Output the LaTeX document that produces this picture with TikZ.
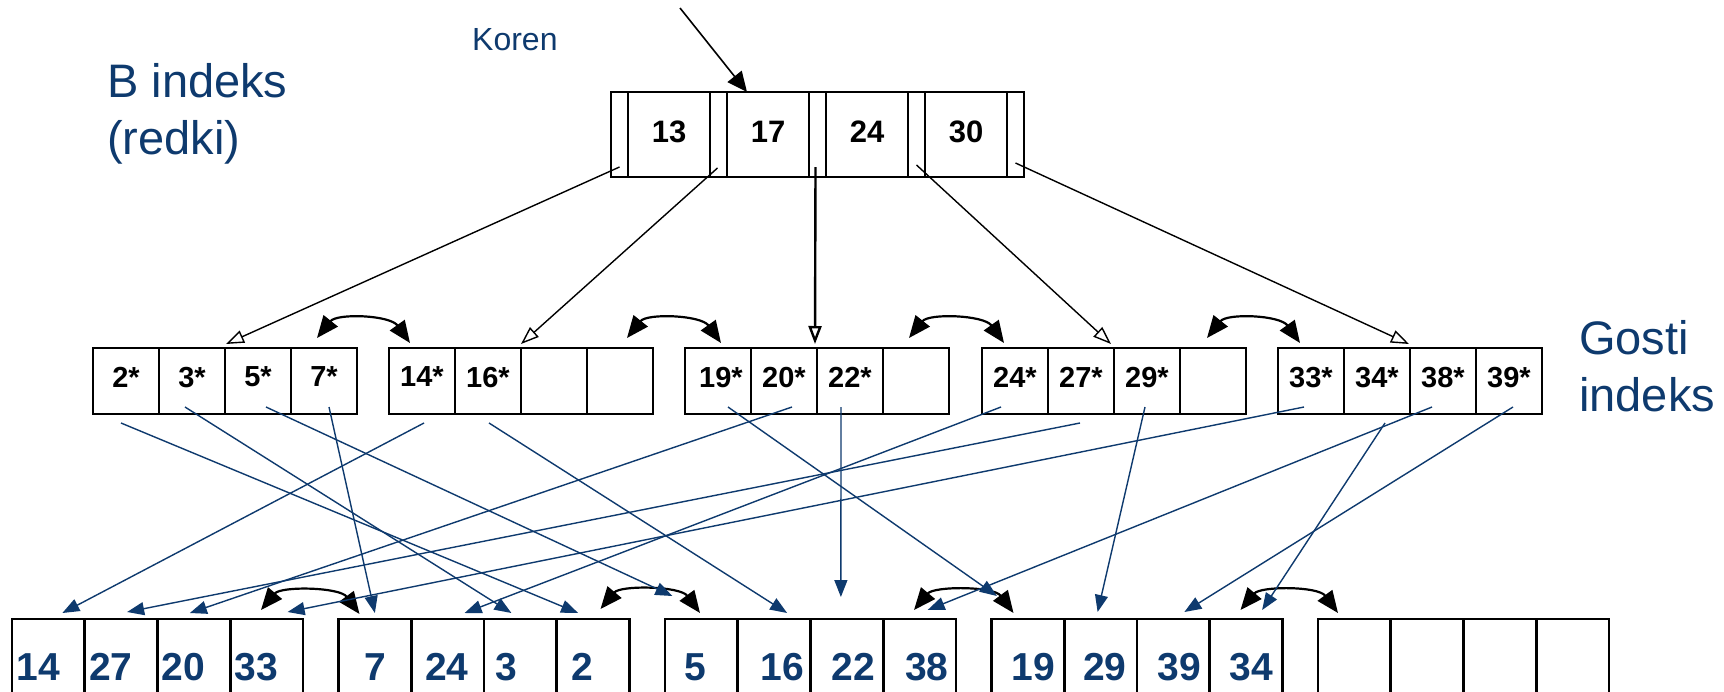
\documentclass[tikz,border=0pt]{standalone}
\usepackage{fontspec}
\setmainfont{Liberation Sans}
\usetikzlibrary{arrows.meta,positioning}

\definecolor{navy}{RGB}{14,58,110}

\begin{document}
\begin{tikzpicture}[
    x=1pt, y=-1pt, node distance=0pt,
    box/.style={draw, inner sep=0pt, outer sep=0pt},
    slot/.style={box, line width=2.4pt, minimum width=17pt, minimum height=85pt},
    rkey/.style={box, line width=1.6pt, minimum width=82pt, minimum height=85pt, text depth=5pt, font=\fontsize{31}{31}\selectfont\bfseries},
    entry/.style={box, line width=2.2pt, minimum size=66pt, text depth=8pt, font=\fontsize{29}{29}\selectfont\bfseries},
    rec/.style={box, line width=2.6pt, minimum width=72.75pt, minimum height=96pt, text width=#1, align=left, text=navy, font=\fontsize{39}{39}\selectfont\bfseries},
    rec/.default=30pt,
    heading/.style={text=navy, align=left, inner sep=0pt},
    branch/.style={-{Triangle[open, length=18pt, width=13pt]}, line width=1.4pt},
    ptr/.style={-{Triangle[length=17pt, width=13pt]}, navy, line width=1.4pt},
    sib/.style={{Triangle[length=22pt, width=18pt]}-{Triangle[length=22pt, width=18pt]}, line width=2.2pt}
]
\path[use as bounding box, fill=white] (0,0) rectangle (1724,691);

% labels
\node[heading, anchor=north west, font=\fontsize{47}{57}\selectfont] (bidx) at (107,63) {B indeks\\(redki)};
\node[heading, anchor=north west, font=\fontsize{47}{57}\selectfont] (gidx) at (1579,320) {Gosti\\indeks};
\node[heading, anchor=base west, font=\fontsize{32}{32}\selectfont] (koren) at (472,50) {Koren};

% root
\node[slot] (p0) at (619.5,134.5) {};
\node[rkey, right=of p0] (k13) {13};
\node[slot, right=of k13] (p1) {};
\node[rkey, right=of p1] (k17) {17};
\node[slot, right=of k17] (p2) {};
\node[rkey, right=of p2] (k24) {24};
\node[slot, right=of k24] (p3) {};
\node[rkey, right=of p3] (k30) {30};
\node[slot, right=of k30] (p4) {};
\draw[line width=2.6pt] (p0.north west) rectangle (p4.south east);

% leaves
\node[entry] (n2) at (126,381) {2*};
\node[entry, right=of n2] (n3) {3*};
\node[entry, right=of n3] (n5) {5*};
\node[entry, right=of n5] (n7) {7*};
\node[entry] (n14) at (422,381) {14*};
\node[entry, right=of n14] (n16) {16*};
\node[entry, right=of n16] (e1) {};
\node[entry, right=of e1] (e2) {};
\node[entry] (n19) at (718,381) {\hspace{6pt}19*};
\node[entry, right=of n19] (n20) {20*};
\node[entry, right=of n20] (n22) {22*};
\node[entry, right=of n22] (e3) {};
\node[entry] (n24) at (1015,381) {24*};
\node[entry, right=of n24] (n27) {27*};
\node[entry, right=of n27] (n29) {29*};
\node[entry, right=of n29] (e4) {};
\node[entry] (n33) at (1311,381) {33*};
\node[entry, right=of n33] (n34) {34*};
\node[entry, right=of n34] (n38) {38*};
\node[entry, right=of n38] (n39) {39*};

% data pages
\node[rec=64pt, anchor=north west] (r14) at (12,619) {14};
\node[rec=64pt, right=of r14] (r27) {27};
\node[rec=64pt, right=of r27] (r20) {20};
\node[rec=64pt, right=of r20] (r33) {33};
\node[rec=21pt, anchor=north west] (r7) at (338.5,619) {7};
\node[rec=45pt, right=of r7] (r24) {24};
\node[rec=49pt, right=of r24] (r3) {3};
\node[rec=43pt, right=of r3] (r2) {2};
\node[rec=33pt, anchor=north west] (r5) at (665,619) {5};
\node[rec=27pt, right=of r5] (r16) {16};
\node[rec=31pt, right=of r16] (r22) {22};
\node[rec=29pt, right=of r22] (r38) {38};
\node[rec=33pt, anchor=north west] (r19) at (991.5,619) {19};
\node[rec=35pt, right=of r19] (r29) {29};
\node[rec=31pt, right=of r29] (r39) {39};
\node[rec=33pt, right=of r39] (r34) {34};
\node[rec, anchor=north west] (f1) at (1318,619) {};
\node[rec, right=of f1] (f2) {};
\node[rec, right=of f2] (f3) {};
\node[rec, right=of f3] (f4) {};

% tree pointers
\coordinate (in) at (680,8);
\draw[-{Triangle[length=20pt, width=18pt]}, line width=1.6pt] (in) -- ([xshift=20pt]k17.north west);
\draw[branch] ([shift={(0,-10)}]p0.south) -- ([shift={(1,-4)}]n3.north east);
\draw[branch] ([shift={(-1,-9)}]p1.south) -- ([shift={(0,-4)}]n16.north east);
\draw[branch, line width=2.4pt] ([shift={(-2,-10)}]p2.south) -- ([shift={(-2,-4)}]n20.north east);
\draw[branch] ([shift={(0,-12)}]p3.south) -- ([shift={(-3,-4)}]n27.north east);
\draw[branch] ([shift={(0,-14)}]p4.south) -- ([shift={(-1,-4)}]n34.north east);

% sibling links
\draw[sib] ([shift={(-40,-10)}]n7.north east) .. controls +(20,-25) and +(-20,-28) .. ([shift={(21,-5)}]n14.north west);
\draw[sib] ([shift={(-26,-10)}]e2.north east) .. controls +(20,-25) and +(-20,-28) .. ([shift={(36,-5)}]n19.north west);
\draw[sib] ([shift={(-40,-10)}]e3.north east) .. controls +(20,-25) and +(-20,-28) .. ([shift={(22,-5)}]n24.north west);
\draw[sib] ([shift={(-39,-10)}]e4.north east) .. controls +(20,-25) and +(-20,-28) .. ([shift={(22,-5)}]n33.north west);
\draw[sib] ([shift={(-42,-9)}]r33.north east) .. controls +(20,-24) and +(-20,-27) .. ([shift={(21,-5)}]r7.north west);
\draw[sib] ([shift={(-29,-10)}]r2.north east) .. controls +(20,-24) and +(-20,-27) .. ([shift={(35,-6)}]r5.north west);
\draw[sib] ([shift={(-42,-9)}]r38.north east) .. controls +(20,-24) and +(-20,-27) .. ([shift={(22,-6)}]r19.north west);
\draw[sib] ([shift={(-42,-9)}]r34.north east) .. controls +(20,-24) and +(-20,-27) .. ([shift={(20,-6)}]f1.north west);

% record pointers
\draw[ptr] ([shift={(-5,9)}]n2.south) -- ([shift={(-15,-6)}]r2.north);
\draw[ptr] ([shift={(-7,-7)}]n3.south) -- ([shift={(-9,-6)}]r3.north);
\draw[ptr] ([shift={(8,-7)}]n5.south) -- ([shift={(-29,-23)}]r5.north);
\draw[ptr] ([shift={(5,-7)}]n7.south) -- ([shift={(0,-6)}]r7.north);
\draw[ptr] ([shift={(2,9)}]n14.south) -- ([shift={(14,-6)}]r14.north);
\draw[ptr] ([shift={(1,9)}]n16.south) -- ([shift={(13,-6)}]r16.north);
\draw[ptr] ([shift={(10,-7)}]n19.south) -- ([shift={(-31,-23)}]r19.north);
\draw[ptr] ([shift={(8,-7)}]n20.south) -- ([shift={(-4,-6)}]r20.north);
\draw[ptr] ([shift={(-9,-7)}]n22.south) -- ([shift={(-6,-22)}]r22.north);
\draw[ptr] ([shift={(-14,-7)}]n24.south) -- ([shift={(17,-6)}]r24.north);
\draw[ptr] ([shift={(-1,9)}]n27.south) -- ([shift={(6,-7)}]r27.north);
\draw[ptr] ([shift={(-2,-7)}]n29.south) -- ([shift={(-3,-7)}]r29.north);
\draw[ptr] ([shift={(-7,-7)}]n33.south) -- ([shift={(21,-7)}]r33.north);
\draw[ptr] ([shift={(8,9)}]n34.south) -- ([shift={(16,-9)}]r34.north);
\draw[ptr] ([shift={(-11,-7)}]n38.south) -- ([shift={(8,-9)}]r38.north);
\draw[ptr] ([shift={(4,-7)}]n39.south) -- ([shift={(11,-7)}]r39.north);
\end{tikzpicture}
\end{document}
